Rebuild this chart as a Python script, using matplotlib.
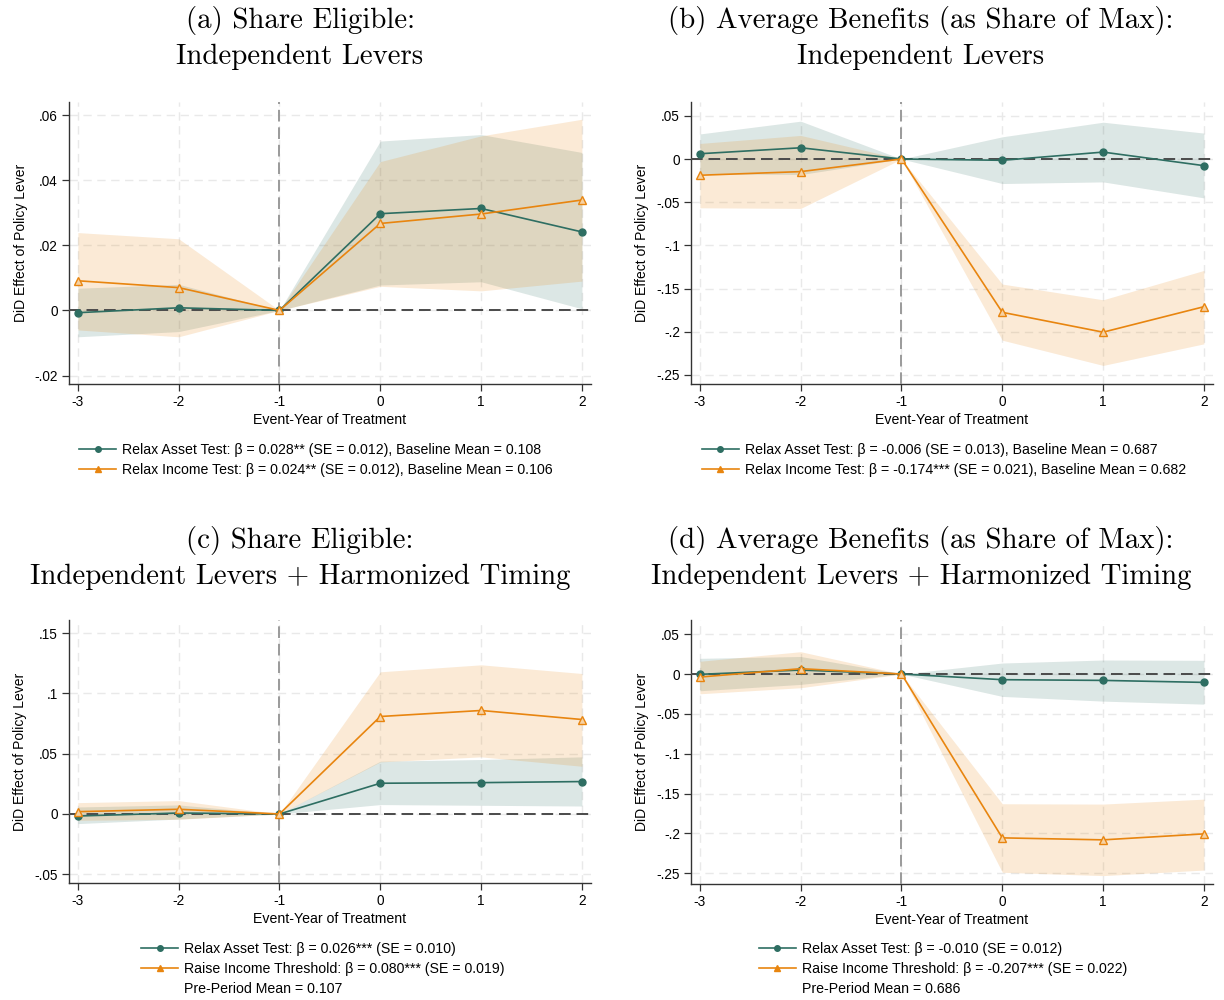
import matplotlib
matplotlib.use("Agg")
import matplotlib.pyplot as plt
from matplotlib.lines import Line2D
from matplotlib.ticker import FuncFormatter

# Event years
years = [-3, -2, -1, 0, 1, 2]
xtick_labels = ["-3", "-2", "-1", "0", "1", "2"]

# (a) Share eligible, independent levers
a_asset = [-0.0007, 0.0008, 0.0, 0.0297, 0.0313, 0.0241]
a_asset_lo = [-0.0081, -0.0065, 0.0, 0.0078, 0.0088, 0.0005]
a_asset_hi = [0.0068, 0.0080, 0.0, 0.0520, 0.0540, 0.0485]
a_income = [0.0091, 0.0070, 0.0, 0.0267, 0.0296, 0.0339]
a_income_lo = [-0.0060, -0.0081, 0.0, 0.0074, 0.0060, 0.0090]
a_income_hi = [0.0239, 0.0220, 0.0, 0.0457, 0.0536, 0.0587]
a_yticks = [-0.02, 0, 0.02, 0.04, 0.06]

# (b) Average benefits, independent levers
b_asset = [0.0061, 0.0130, 0.0, -0.0015, 0.0080, -0.0077]
b_asset_lo = [-0.0170, -0.0180, 0.0, -0.0284, -0.0265, -0.0450]
b_asset_hi = [0.0290, 0.0438, 0.0, 0.0257, 0.0426, 0.0300]
b_income = [-0.0188, -0.0146, 0.0, -0.1775, -0.2005, -0.1710]
b_income_lo = [-0.0565, -0.0572, 0.0, -0.2098, -0.2390, -0.2140]
b_income_hi = [0.0180, 0.0273, 0.0, -0.1448, -0.1630, -0.1290]
b_yticks = [-0.25, -0.2, -0.15, -0.1, -0.05, 0, 0.05]

# (c) Share eligible, harmonized timing
c_asset = [-0.0017, 0.0008, 0.0, 0.0255, 0.0260, 0.0269]
c_asset_lo = [-0.0080, -0.0042, 0.0, 0.0078, 0.0072, 0.0066]
c_asset_hi = [0.0058, 0.0075, 0.0, 0.0438, 0.0452, 0.0474]
c_income = [0.0019, 0.0039, 0.0, 0.0809, 0.0859, 0.0784]
c_income_lo = [-0.0053, -0.0044, 0.0, 0.0432, 0.0474, 0.0396]
c_income_hi = [0.0094, 0.0111, 0.0, 0.1180, 0.1238, 0.1166]
c_yticks = [-0.05, 0, 0.05, 0.1, 0.15]

# (d) Average benefits, harmonized timing
d_asset = [-0.0004, 0.0050, 0.0, -0.0071, -0.0080, -0.0105]
d_asset_lo = [-0.0210, -0.0130, 0.0, -0.0281, -0.0340, -0.0378]
d_asset_hi = [0.0197, 0.0220, 0.0, 0.0138, 0.0176, 0.0172]
d_income = [-0.0038, 0.0067, 0.0, -0.2056, -0.2081, -0.2006]
d_income_lo = [-0.0248, -0.0172, 0.0, -0.2488, -0.2530, -0.2460]
d_income_hi = [0.0160, 0.0280, 0.0, -0.1628, -0.1632, -0.1570]
d_yticks = [-0.25, -0.2, -0.15, -0.1, -0.05, 0, 0.05]

titles = [
    "(a) Share Eligible:\nIndependent Levers",
    "(b) Average Benefits (as Share of Max):\nIndependent Levers",
    "(c) Share Eligible:\nIndependent Levers + Harmonized Timing",
    "(d) Average Benefits (as Share of Max):\nIndependent Levers + Harmonized Timing",
]
legend_labels = [
    ["Relax Asset Test: β = 0.028** (SE = 0.012), Baseline Mean = 0.108",
     "Relax Income Test: β = 0.024** (SE = 0.012), Baseline Mean = 0.106"],
    ["Relax Asset Test: β = -0.006 (SE = 0.013), Baseline Mean = 0.687",
     "Relax Income Test: β = -0.174*** (SE = 0.021), Baseline Mean = 0.682"],
    ["Relax Asset Test: β = 0.026*** (SE = 0.010)",
     "Raise Income Threshold: β = 0.080*** (SE = 0.019)",
     "Pre-Period Mean = 0.107"],
    ["Relax Asset Test: β = -0.010 (SE = 0.012)",
     "Raise Income Threshold: β = -0.207*** (SE = 0.022)",
     "Pre-Period Mean = 0.686"],
]

TEAL = "#2e6e62"
ORANGE = "#e8850f"
SANS = "Liberation Sans"
SERIF = "cmr10"

W, H = 1224, 1000
fig = plt.figure(figsize=(W / 100, H / 100), dpi=100)


def px_box(left, right, top, bottom):
    return [left / W, 1 - bottom / H, (right - left) / W, (bottom - top) / H]


def stata_fmt(v, _pos=None):
    if abs(v) < 1e-12:
        return "0"
    s = ("%.2f" % v).rstrip("0")
    s = s.replace("0.", ".")
    return s


panels = [
    dict(box=px_box(69, 591, 102, 384), ylim=(-0.0226, 0.064), yticks=a_yticks,
         s=(a_asset, a_asset_lo, a_asset_hi, a_income, a_income_lo, a_income_hi),
         title_xy=(300, 38), leg_xy=(316, 443)),
    dict(box=px_box(691, 1213, 102, 384), ylim=(-0.2605, 0.066), yticks=b_yticks,
         s=(b_asset, b_asset_lo, b_asset_hi, b_income, b_income_lo, b_income_hi),
         title_xy=(921, 38), leg_xy=(944, 443)),
    dict(box=px_box(69, 591, 620, 883), ylim=(-0.0573, 0.161), yticks=c_yticks,
         s=(c_asset, c_asset_lo, c_asset_hi, c_income, c_income_lo, c_income_hi),
         title_xy=(300, 558), leg_xy=(323, 942)),
    dict(box=px_box(691, 1213, 620, 884), ylim=(-0.2635, 0.0678), yticks=d_yticks,
         s=(d_asset, d_asset_lo, d_asset_hi, d_income, d_income_lo, d_income_hi),
         title_xy=(921, 558), leg_xy=(943, 942)),
]

for i, p in enumerate(panels):
    ax = fig.add_axes(p["box"])
    asset, asset_lo, asset_hi, inc, inc_lo, inc_hi = p["s"]

    ax.set_xlim(-3.088, 2.09)
    ax.set_ylim(*p["ylim"])
    ax.set_xticks(years)
    ax.set_xticklabels(xtick_labels)
    ax.set_yticks(p["yticks"])
    ax.yaxis.set_major_formatter(FuncFormatter(stata_fmt))

    ax.grid(True, color="#e9e9e9", linestyle=(0, (6, 4)), linewidth=1.0, zorder=0)
    ax.set_axisbelow(True)

    ax.fill_between(years, asset_lo, asset_hi, color=TEAL, alpha=0.165,
                    linewidth=0, zorder=1)
    ax.fill_between(years, inc_lo, inc_hi, color=ORANGE, alpha=0.17,
                    linewidth=0, zorder=2)

    ax.axhline(0, color="#4a4a4a", linestyle=(0, (6, 3)), linewidth=1.4, zorder=3)
    ax.axvline(-1, color="#9a9a9a", linestyle=(0, (6, 3)), linewidth=1.4, zorder=3)

    ax.plot(years, asset, color=TEAL, linewidth=1.2, marker="o", markersize=5,
            markerfacecolor=TEAL, markeredgecolor=TEAL, zorder=4)
    ax.plot(years, inc, color=ORANGE, linewidth=1.2, marker="^", markersize=5.5,
            markerfacecolor="#f6d2a4", markeredgecolor=ORANGE, markeredgewidth=1.0,
            zorder=5)

    for side in ("top", "right"):
        ax.spines[side].set_visible(False)
    for side in ("left", "bottom"):
        ax.spines[side].set_color("#333333")
        ax.spines[side].set_linewidth(1.0)
    ax.tick_params(direction="out", length=5, width=0.9, color="#333333",
                   labelsize=9.8, pad=3)
    for lab in ax.get_xticklabels() + ax.get_yticklabels():
        lab.set_fontfamily(SANS)

    ax.set_xlabel("Event-Year of Treatment", fontfamily=SANS, fontsize=10.2,
                  labelpad=3)
    ax.set_ylabel("DiD Effect of Policy Lever", fontfamily=SANS, fontsize=10,
                  labelpad=5)

    tx, ty = p["title_xy"]
    fig.text(tx / W, 1 - ty / H, titles[i], fontfamily=SERIF, fontsize=20.8,
             ha="center", va="center", linespacing=1.42)

    handles = [
        Line2D([], [], color=TEAL, linewidth=1.2, marker="o", markersize=4,
               markerfacecolor=TEAL, markeredgecolor=TEAL),
        Line2D([], [], color=ORANGE, linewidth=1.2, marker="^", markersize=5,
               markerfacecolor=ORANGE, markeredgecolor=ORANGE),
    ]
    labels = legend_labels[i]
    if len(labels) == 3:
        handles.append(Line2D([], [], color="none"))
    lx, ly = p["leg_xy"]
    leg = fig.legend(handles, labels, loc="upper center",
                     bbox_to_anchor=(lx / W, 1 - ly / H), frameon=False,
                     prop={"family": SANS, "size": 10.2}, handlelength=2.6,
                     handletextpad=0.45, labelspacing=0.42, borderpad=0,
                     borderaxespad=0)

fig.savefig("out.png", dpi=100, facecolor="white")
